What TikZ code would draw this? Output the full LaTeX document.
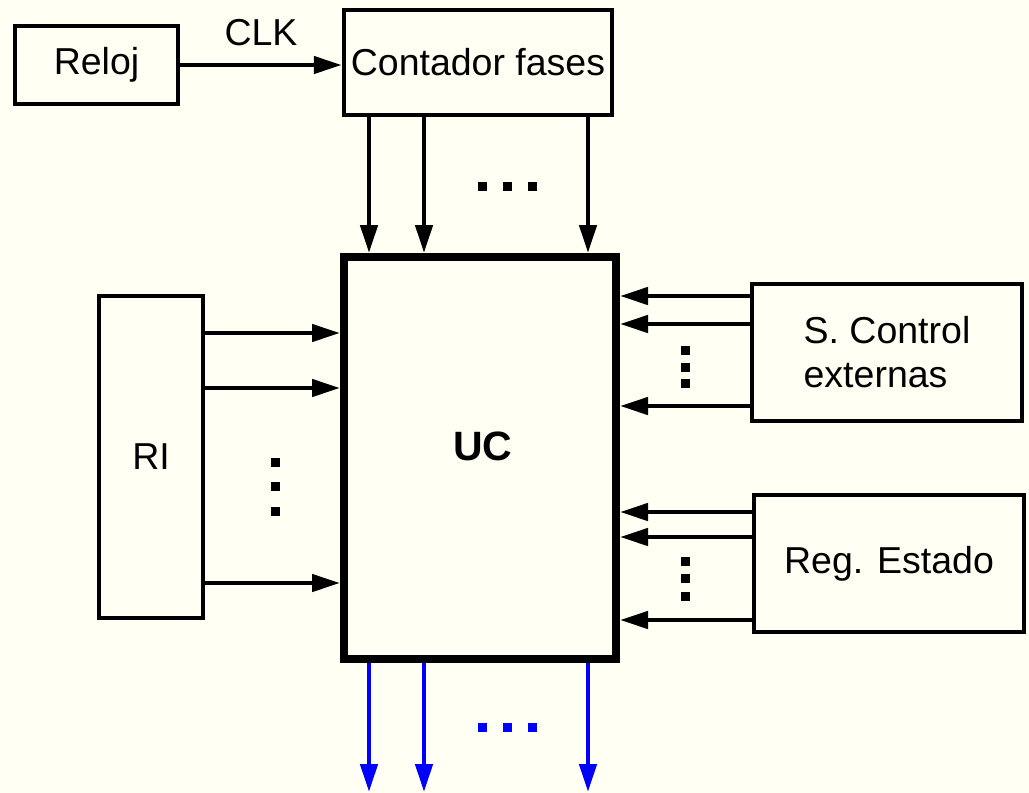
\documentclass[tikz,border=0pt]{standalone}
\usepackage{fontspec}
\setmainfont{Liberation Sans}
\usetikzlibrary{arrows.meta}
\definecolor{paper}{HTML}{FFFFF4}
\definecolor{busblue}{HTML}{0000FF}
\tikzset{
  blk/.style={draw, line width=4.5pt, inner sep=0pt, font=\fontsize{37.5}{44}\selectfont},
  lbl/.style={inner sep=0pt, font=\fontsize{37.5}{44}\selectfont},
  sig/.style={-{Triangle[length=28pt, width=17pt]}, line width=4.5pt},
  outsig/.style={sig, color=busblue}
}
\begin{document}
\begin{tikzpicture}[x=1pt, y=-1pt]
\fill[paper] (0,0) rectangle (1029,793);
\useasboundingbox (0,0) rectangle (1029,793);

% bloques
\node[blk, minimum width=163pt, minimum height=78pt] (reloj) at (96.5,65) {Reloj};
\node[blk, minimum width=268pt, minimum height=105pt] (fases) at (478,62.5) {Contador fases};
\node[blk, line width=8pt, minimum width=272pt, minimum height=402pt] (uc) at (480,458) {};
\node[lbl, font=\fontsize{41}{48}\selectfont\bfseries] (uctxt) at (483,446) {UC};
\node[blk, minimum width=104pt, minimum height=322pt] (ri) at (151,457) {RI};
\node[blk, minimum width=270pt, minimum height=137pt, align=left] (sce) at (887,352.5) {S. Control\\externas};
\node[blk, minimum width=270pt, minimum height=137pt] (reg) at (889,563.5) {Reg. Estado};

% reloj
\draw[sig] (reloj.east) -- (reloj.east -| fases.west)
  node[lbl, midway, above=17pt] (clk) {CLK};

% fases -> UC
\foreach \x in {369,424,588}
  \draw[sig] (fases.south -| \x,0) -- (uc.north -| \x,0);
\foreach \x in {482,507,532}
  \fill (\x,186) ++(-4.5,-4.5) rectangle ++(9,9);

% RI -> UC
\foreach \y in {333,388,583}
  \draw[sig] (ri.east |- 0,\y) -- (uc.west |- 0,\y);
\foreach \y in {462,486,511}
  \fill (275,\y) ++(-4.5,-4.5) rectangle ++(9,9);

% entradas externas
\foreach \y in {296,324,406}
  \draw[sig] (sce.west |- 0,\y) -- (uc.east |- 0,\y);
\foreach \y in {350,367,383}
  \fill (685,\y) ++(-4.5,-4.5) rectangle ++(9,9);

\foreach \y in {512,537,620}
  \draw[sig] (reg.west |- 0,\y) -- (uc.east |- 0,\y);
\foreach \y in {561,578,596}
  \fill (685,\y) ++(-4.5,-4.5) rectangle ++(9,9);

% salidas de control
\foreach \x [count=\i] in {369,424,588} {
  \coordinate (bus\i) at (\x,792);
  \draw[outsig] (uc.south -| bus\i) -- (bus\i);
}
\foreach \x in {482,507,532}
  \fill[busblue] (\x,727) ++(-4.5,-4.5) rectangle ++(9,9);
\end{tikzpicture}
\end{document}
